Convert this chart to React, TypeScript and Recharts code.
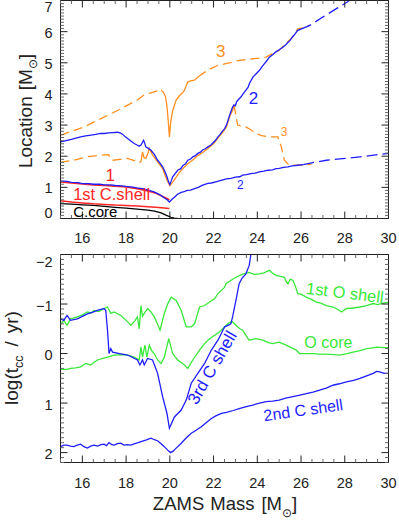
import React from 'react';
import { LineChart, Line, XAxis, YAxis, ReferenceDot } from 'recharts';

type Pt = [number, number];

// ---------- Top panel: Location [Msun] vs ZAMS mass ----------
const cCore: Pt[] = [[15,0.48],[15.5,0.46],[16,0.44],[16.5,0.42],[17,0.39],[17.5,0.36],[18,0.33],[18.5,0.3],[19,0.27],[19.3,0.24],[19.6,0.18],[19.85,0.1],[20.05,0.04],[20.2,0.01],[20.36,0]];
const shell1Inner: Pt[] = [[15,0.57],[15.5,0.53],[16,0.5],[16.5,0.47],[17,0.45],[17.5,0.43],[18,0.42],[18.5,0.4],[19,0.38],[19.5,0.35],[19.98,0.32]];
const shell1Outer: Pt[] = [[15,1.17],[15.5,1.14],[16,1.11],[16.5,1.08],[17,1.06],[17.5,1.04],[18,1.01],[18.5,0.96],[19,0.88],[19.4,0.8],[19.7,0.7],[19.98,0.6]];
const shell2LowSolid: Pt[] = [[15,1.2],[15.3,1.19],[15.5,1.16],[15.8,1.15],[16,1.12],[16.3,1.12],[16.5,1.1],[16.8,1.1],[17,1.08],[17.3,1.08],[17.5,1.06],[17.8,1.05],[18,1.03],[18.3,1.01],[18.5,0.98],[18.8,0.95],[19,0.91],[19.25,0.86],[19.44,0.8],[19.6,0.74],[19.75,0.66],[19.88,0.6],[19.98,0.53],[20.1,0.62],[20.21,0.68],[20.35,0.78],[20.52,0.84],[20.65,0.86],[20.8,0.9],[20.95,0.91],[21.13,0.96],[21.3,1.0],[21.5,1.07],[21.74,1.13],[21.9,1.14],[22.1,1.18],[22.3,1.22],[22.59,1.27],[22.8,1.29],[23.0,1.33],[23.2,1.34],[23.33,1.39],[23.5,1.41],[23.7,1.44],[23.9,1.46],[24.1,1.5],[24.3,1.52],[24.5,1.55],[24.7,1.56],[24.86,1.6],[25.0,1.61],[25.2,1.64],[25.4,1.66],[25.6,1.69],[25.85,1.71],[26.1,1.73]];
const shell2LowDash: Pt[] = [[26.1,1.73],[26.6,1.8],[27.16,1.87],[27.9,1.92],[28.69,1.98],[29.4,2.04],[30,2.09]];
const shell2UpSolid: Pt[] = [[15,2.46],[15.25,2.5],[15.5,2.54],[15.7,2.58],[15.92,2.62],[16.15,2.65],[16.4,2.68],[16.6,2.7],[16.84,2.73],[17.0,2.73],[17.2,2.75],[17.4,2.76],[17.6,2.77],[17.75,2.74],[17.85,2.7],[17.95,2.63],[18.07,2.57],[18.2,2.5],[18.37,2.41],[18.5,2.36],[18.6,2.32],[18.68,2.36],[18.75,2.45],[18.8,2.51],[18.85,2.42],[18.9,2.3],[19.0,2.26],[19.14,2.19],[19.3,2.05],[19.44,1.87],[19.55,1.78],[19.67,1.66],[19.77,1.52],[19.87,1.34],[19.93,1.2],[20.0,1.09],[20.06,1.2],[20.13,1.34],[20.25,1.45],[20.36,1.55],[20.5,1.6],[20.6,1.7],[20.72,1.76],[20.82,1.87],[20.95,1.91],[21.05,1.98],[21.17,2.02],[21.28,2.09],[21.4,2.13],[21.5,2.2],[21.62,2.24],[21.74,2.3],[21.88,2.36],[22.0,2.45],[22.1,2.52],[22.2,2.62],[22.3,2.7],[22.4,2.8],[22.5,2.88],[22.59,3.0],[22.68,3.2],[22.75,3.35],[22.87,3.58],[22.93,3.65],[23.0,3.62],[23.05,3.75],[23.15,3.83],[23.25,3.9],[23.35,4.0],[23.48,4.12],[23.58,4.22],[23.65,4.35],[23.8,4.54],[23.95,4.65],[24.1,4.76],[24.2,4.86],[24.3,4.95],[24.42,5.05],[24.55,5.18],[24.7,5.26],[24.85,5.35],[25.0,5.42],[25.17,5.5],[25.3,5.58],[25.4,5.65],[25.5,5.72],[25.6,5.82],[25.72,5.92],[25.85,6.04],[26.0,6.08]];
const shell2UpDash: Pt[] = [[26.0,6.08],[26.4,6.2],[27.0,6.47],[27.6,6.73],[28.15,6.97],[29.0,7.4],[30,7.85]];
const shell3UpDashA: Pt[] = [[15,2.67],[15.5,2.8],[16.07,2.94],[16.6,3.12],[17.15,3.31],[17.7,3.5],[18.2,3.69],[18.5,3.8],[18.83,3.97],[19.2,4.05],[19.45,4.1],[19.6,4.12]];
const shell3UpSolid: Pt[] = [[19.6,4.12],[19.7,4.06],[19.8,3.92],[19.87,3.6],[19.93,3.1],[19.98,2.62],[20.04,3.1],[20.13,3.47],[20.29,3.8],[20.45,3.95],[20.6,4.05],[20.67,4.12],[20.82,4.38],[20.95,4.42],[21.13,4.44],[21.3,4.55]];
const shell3UpDashB: Pt[] = [[21.3,4.55],[21.6,4.7],[21.9,4.82],[22.2,4.92],[22.56,4.97],[22.9,5.02],[23.17,5.08],[23.5,5.1],[23.8,5.13],[24.1,5.15],[24.4,5.18],[24.7,5.3],[25.0,5.4],[25.3,5.61],[25.6,5.82],[25.85,6.09],[26.1,6.12],[26.4,6.2]];
const shell3LowDashA: Pt[] = [[15,1.8],[15.3,1.84],[15.6,1.87],[16.2,1.98],[16.84,2.03],[17.2,2.05],[17.3,1.9],[17.4,1.87],[18.07,1.93],[18.4,1.85],[18.6,1.8]];
const shell3LowSolid: Pt[] = [[18.6,1.8],[18.68,1.82],[18.75,2.14],[18.82,1.95],[18.9,1.93],[19.0,2.1],[19.06,2.25],[19.2,2.05],[19.44,1.82],[19.67,1.6],[19.87,1.23],[20.0,1.05],[20.2,1.23],[20.4,1.45],[20.6,1.6],[20.82,1.76],[21.05,1.88],[21.28,2.02],[21.5,2.12],[21.74,2.25],[22.0,2.4],[22.2,2.58],[22.4,2.75],[22.59,2.94],[22.75,3.3],[22.87,3.47],[22.94,3.63]];
const shell3LowDashB: Pt[] = [[22.94,3.63],[23.1,3.0],[23.48,2.94],[23.7,2.85],[23.94,2.73],[24.2,2.66],[24.55,2.62],[24.94,2.62],[25.1,2.3],[25.24,1.87],[25.4,1.75],[25.55,1.71],[25.85,1.71],[26.1,1.72],[26.47,1.74]];

// ---------- Bottom panel: log(t_cc / yr) vs ZAMS mass ----------
const oShell1: Pt[] = [[15,-0.59],[15.15,-0.67],[15.3,-0.57],[15.46,-0.7],[15.77,-0.74],[16.0,-0.78],[16.23,-0.84],[16.4,-0.82],[16.53,-0.87],[16.75,-0.85],[16.99,-0.91],[17.15,-0.94],[17.3,-0.81],[17.45,-0.84],[17.76,-0.77],[18.07,-0.64],[18.22,-0.57],[18.4,-0.66],[18.52,-0.74],[18.6,-0.5],[18.68,-0.97],[18.75,-0.75],[18.83,-0.81],[18.98,-0.91],[19.14,-0.84],[19.29,-0.74],[19.45,-0.58],[19.55,-0.47],[19.75,-0.81],[19.9,-1.0],[20.06,-1.14],[20.29,-1.07],[20.52,-0.87],[20.75,-0.54],[20.98,-0.54],[21.13,-0.6],[21.36,-0.94],[21.59,-0.97],[21.82,-1.04],[22.05,-1.11],[22.2,-1.21],[22.51,-1.34],[22.56,-1.41],[22.8,-1.48],[23.02,-1.54],[23.3,-1.6],[23.63,-1.64],[23.85,-1.6],[24.09,-1.61],[24.3,-1.63],[24.55,-1.68],[24.7,-1.62],[24.86,-1.58],[25.05,-1.56],[25.24,-1.54],[25.32,-1.45],[25.4,-1.41],[25.5,-1.5],[25.63,-1.48],[25.75,-1.35],[25.85,-1.21],[26.0,-1.2],[26.24,-1.14],[26.45,-1.1],[26.7,-1.04],[26.9,-1.02],[27.16,-0.97],[27.46,-0.94],[27.65,-0.9],[27.85,-0.84],[28.08,-0.91],[28.4,-0.92],[28.69,-0.94],[29.0,-0.97],[29.3,-1.01],[29.5,-0.99],[29.76,-1.02],[30,-1.04]];
const oCore: Pt[] = [[15,0.32],[15.3,0.32],[15.46,0.3],[15.7,0.29],[15.92,0.27],[16.15,0.2],[16.38,0.23],[16.55,0.17],[16.69,0.13],[16.9,0.1],[17.15,0.07],[17.45,0.03],[17.8,0.02],[18.07,0.03],[18.37,0.07],[18.6,0.13],[18.68,-0.13],[18.75,0.07],[18.86,-0.17],[18.95,0.07],[19.06,-0.17],[19.18,-0.05],[19.29,0.0],[19.44,0.13],[19.6,0.2],[19.75,0.07],[19.95,-0.3],[20.13,0.0],[20.36,0.13],[20.67,0.23],[20.82,0.3],[21.05,0.13],[21.36,-0.07],[21.59,-0.2],[21.82,-0.3],[22.05,-0.37],[22.28,-0.44],[22.51,-0.54],[22.7,-0.62],[22.87,-0.64],[23.02,-0.57],[23.2,-0.5],[23.33,-0.47],[23.5,-0.35],[23.63,-0.27],[23.94,-0.3],[24.25,-0.27],[24.5,-0.22],[24.71,-0.2],[25.0,-0.23],[25.32,-0.17],[25.55,-0.12],[25.78,-0.07],[25.93,0.0],[26.2,0.0],[26.54,0.0],[26.85,0.01],[27.16,0.01],[27.5,0.02],[27.77,0.03],[28.1,0.0],[28.38,-0.03],[28.7,-0.06],[29.0,-0.1],[29.2,-0.11],[29.45,-0.13],[29.76,-0.12],[30,-0.12]];
const cShell3: Pt[] = [[15,-0.7],[15.15,-0.67],[15.3,-0.77],[15.46,-0.67],[15.77,-0.7],[16.0,-0.75],[16.23,-0.8],[16.45,-0.83],[16.69,-0.87],[16.99,-0.91],[17.07,-0.87],[17.15,-0.47],[17.22,0.0],[17.3,-0.1],[17.38,-0.03],[17.7,0.0],[18.07,0.03],[18.3,0.08],[18.52,0.13],[18.63,0.23],[18.75,0.13],[18.83,0.23],[18.98,0.1],[19.21,0.13],[19.44,0.4],[19.67,0.87],[19.87,1.21],[19.98,1.51],[20.21,1.28],[20.52,1.14],[20.75,0.94],[20.98,0.6],[21.28,0.4],[21.59,0.2],[21.9,-0.07],[22.2,-0.27],[22.51,-0.54],[22.7,-0.58],[22.79,-0.6],[22.87,-0.74],[23.02,-1.07],[23.17,-1.41],[23.3,-1.52],[23.48,-1.61],[23.63,-1.78],[23.71,-2.01],[23.8,-2.6]];
const cShell2: Pt[] = [[15,1.88],[15.15,1.85],[15.3,1.85],[15.45,1.87],[15.61,1.88],[15.77,1.85],[15.92,1.83],[16.07,1.88],[16.23,1.91],[16.38,1.87],[16.53,1.85],[16.7,1.87],[16.85,1.84],[16.99,1.83],[17.1,1.86],[17.22,1.8],[17.35,1.84],[17.45,1.85],[17.6,1.82],[17.76,1.81],[17.9,1.85],[18.05,1.84],[18.22,1.85],[18.4,1.82],[18.55,1.8],[18.68,1.78],[18.9,1.75],[19.14,1.71],[19.29,1.74],[19.44,1.76],[19.6,1.82],[19.75,1.88],[19.9,1.95],[20.03,2.0],[20.15,1.97],[20.29,1.91],[20.5,1.82],[20.67,1.74],[20.85,1.66],[20.98,1.61],[21.2,1.55],[21.44,1.48],[21.7,1.38],[21.9,1.31],[22.1,1.26],[22.36,1.21],[22.59,1.19],[22.9,1.15],[23.17,1.11],[23.5,1.07],[23.79,1.04],[24.1,1.0],[24.4,0.97],[24.7,0.96],[25.0,0.94],[25.3,0.9],[25.63,0.87],[25.95,0.84],[26.24,0.81],[26.55,0.78],[26.85,0.74],[27.15,0.7],[27.46,0.64],[27.75,0.61],[28.08,0.57],[28.4,0.54],[28.69,0.5],[29.0,0.45],[29.3,0.4],[29.45,0.36],[29.6,0.37],[29.8,0.4],[30,0.4]];

// ---------- Tick labels ----------
const xMajorLabels = [16, 18, 20, 22, 24, 26, 28, 30];
const topYLabels = [0, 1, 2, 3, 4, 5, 6, 7];
const botYLabels = [-2, -1, 0, 1, 2];

const BLUE = '#1e1eff';
const ORANGE = '#ff8f1f';
const RED = '#ff2626';
const GREEN = '#38e838';
const AXIS = '#222';
const FONT = '"Liberation Sans", Arial, Helvetica, sans-serif';

const range = (a: number, b: number, step: number) => {
  const out: number[] = [];
  const n = Math.round((b - a) / step);
  for (let i = 0; i <= n; i++) out.push(Math.round((a + i * step) * 1000) / 1000);
  return out;
};

const xTicks = range(15, 30, 0.5);
const topYTicks = range(0, 7, 0.1);
const botYTicks = range(-2, 2.2, 0.1);

const fmt = (v: number) => (v < 0 ? '\u2212' + Math.abs(v) : String(v));

type Side = 'bottom' | 'top' | 'left' | 'right';
function makeTick(side: Side, majors: number[], labels: number[] | null, labelGap: number, shift?: (v: number) => number) {
  return (props: any) => {
    const { x, y, payload } = props;
    const v = Math.round(Number(payload.value) * 1000) / 1000;
    const major = majors.includes(v);
    const len = major ? 7 : 3.5;
    let x2 = x, y2 = y;
    if (side === 'bottom') y2 = y - len;
    if (side === 'top') y2 = y + len;
    if (side === 'left') x2 = x + len;
    if (side === 'right') x2 = x - len;
    const showLabel = labels && labels.includes(v);
    return (
      <g>
        <line x1={x} y1={y} x2={x2} y2={y2} stroke={major ? AXIS : '#666'} strokeWidth={1} />
        {showLabel && side === 'bottom' && (
          <text x={x} y={y + labelGap} textAnchor="middle" fontSize={14.5} fontFamily={FONT} fill={AXIS}>{fmt(v)}</text>
        )}
        {showLabel && side === 'left' && (
          <text x={x - labelGap} y={y + 5 + (shift ? shift(v) : 0)} textAnchor="end" fontSize={14.5} fontFamily={FONT} fill={AXIS}>{fmt(v)}</text>
        )}
      </g>
    );
  };
}

const toPts = (a: Pt[]) => a.map(([x, y]) => ({ x, y }));

type Series = { data: Pt[]; color: string; dash?: string; width?: number };

const topSeries: Series[] = [
  { data: shell3UpDashA, color: ORANGE, dash: '9 5' },
  { data: shell3UpSolid, color: ORANGE },
  { data: shell3UpDashB, color: ORANGE, dash: '9 5' },
  { data: shell3LowDashA, color: ORANGE, dash: '9 5' },
  { data: shell3LowSolid, color: ORANGE },
  { data: shell3LowDashB, color: ORANGE, dash: '9 5' },
  { data: cCore, color: '#000' },
  { data: shell1Inner, color: RED, width: 1.5 },
  { data: shell1Outer, color: RED, width: 1.6 },
  { data: shell2LowSolid, color: BLUE },
  { data: shell2LowDash, color: BLUE, dash: '11 5' },
  { data: shell2UpSolid, color: BLUE },
  { data: shell2UpDash, color: BLUE, dash: '11 5' },
];

const botSeries: Series[] = [
  { data: oShell1, color: GREEN },
  { data: oCore, color: GREEN },
  { data: cShell3, color: BLUE },
  { data: cShell2, color: BLUE },
];

type Note = { text: string; x: number; y: number; color: string; size: number; angle?: number };
const topNotes: Note[] = [
  { text: '3', x: 22.33, y: 5.37, color: ORANGE, size: 17 },
  { text: '2', x: 23.82, y: 3.86, color: BLUE, size: 17 },
  { text: '3', x: 25.23, y: 2.77, color: ORANGE, size: 12 },
  { text: '2', x: 23.23, y: 1.1, color: BLUE, size: 12 },
  { text: '1', x: 17.28, y: 1.39, color: RED, size: 17 },
  { text: '1st C.shell', x: 17.34, y: 0.78, color: RED, size: 16.5 },
  { text: 'C.core', x: 16.59, y: 0.21, color: '#000', size: 15 },
];
const botNotes: Note[] = [
  { text: '1st O shell', x: 28.01, y: -1.23, color: GREEN, size: 16.5, angle: 7 },
  { text: 'O core', x: 27.25, y: -0.23, color: GREEN, size: 16 },
  { text: '2nd C shell', x: 26.1, y: 1.14, color: BLUE, size: 16, angle: -8 },
  { text: '3rd C shell', x: 21.92, y: 0.28, color: BLUE, size: 17, angle: -60 },
];

function renderLines(list: Series[]) {
  return list.map((s, i) => (
    <Line
      key={i}
      data={toPts(s.data)}
      dataKey="y"
      type="linear"
      dot={false}
      activeDot={false}
      stroke={s.color}
      strokeWidth={s.width ?? 1.3}
      strokeDasharray={s.dash}
      isAnimationActive={false}
    />
  ));
}

function renderNotes(list: Note[]) {
  return list.map((n, i) => (
    <ReferenceDot
      key={'n' + i}
      x={n.x}
      y={n.y}
      r={0}
      fill="none"
      stroke="none"
      label={{ value: n.text, position: 'center', fill: n.color, fontSize: n.size, fontFamily: FONT, angle: n.angle ?? 0 }}
    />
  ));
}

export default function App() {
  const xAxisCommon = {
    type: 'number' as const,
    dataKey: 'x',
    domain: [15, 30],
    allowDataOverflow: true,
    ticks: xTicks,
    interval: 0 as const,
    tickSize: 0,
    tickMargin: 0,
    height: 0.5,
    tickLine: false,
    axisLine: { stroke: AXIS, strokeWidth: 1 },
  };
  const yAxisCommon = {
    type: 'number' as const,
    allowDataOverflow: true,
    interval: 0 as const,
    tickSize: 0,
    tickMargin: 0,
    width: 0.5,
    tickLine: false,
    axisLine: { stroke: AXIS, strokeWidth: 1 },
  };
  const topShift = (v: number) => (v === 7 ? 6 : v === 0 ? -5.5 : 1);
  const botShift = (v: number) => (v === -2 ? 7 : 1.5);
  return (
    <div style={{ position: 'absolute', left: 0, top: 0, width: 399, height: 520, background: '#fff' }}>
      <div style={{ position: 'absolute', left: 0, top: 0 }}>
        <LineChart width={399} height={250} margin={{ top: 0, right: 10, bottom: 31, left: 60 }}>
          <XAxis {...xAxisCommon} orientation="bottom" tick={makeTick('bottom', xMajorLabels, xMajorLabels, 24)} />
          <XAxis {...xAxisCommon} xAxisId="top" orientation="top" tick={makeTick('top', xMajorLabels, null, 0)} />
          <YAxis {...yAxisCommon} domain={[0, 7]} ticks={topYTicks} tick={makeTick('left', topYLabels, topYLabels, 8, topShift)} />
          <YAxis {...yAxisCommon} yAxisId="right" orientation="right" domain={[0, 7]} ticks={topYTicks} tick={makeTick('right', topYLabels, null, 0)} />
          {renderLines(topSeries)}
          {renderNotes(topNotes)}
        </LineChart>
      </div>
      <div style={{ position: 'absolute', left: 0, top: 0 }}>
        <LineChart width={399} height={520} margin={{ top: 254, right: 10, bottom: 57, left: 60 }}>
          <XAxis {...xAxisCommon} orientation="bottom" tick={makeTick('bottom', xMajorLabels, xMajorLabels, 25)} />
          <XAxis {...xAxisCommon} xAxisId="top" orientation="top" tick={makeTick('top', xMajorLabels, null, 0)} />
          <YAxis {...yAxisCommon} domain={[-2, 2.2]} reversed ticks={botYTicks} tick={makeTick('left', botYLabels, botYLabels, 8, botShift)} />
          <YAxis {...yAxisCommon} yAxisId="right" orientation="right" domain={[-2, 2.2]} reversed ticks={botYTicks} tick={makeTick('right', botYLabels, null, 0)} />
          {renderLines(botSeries)}
          {renderNotes(botNotes)}
        </LineChart>
      </div>
      <svg width={399} height={520} style={{ position: 'absolute', left: 0, top: 0, pointerEvents: 'none' }}>
        <text transform="translate(32,111) rotate(-90)" textAnchor="middle" fontSize={19} fontFamily={FONT} fill={AXIS}>
          <tspan>Location</tspan>
          <tspan dx={6}>[M</tspan>
          <tspan fontSize={12} dy={5}>{'\u2299'}</tspan>
          <tspan dy={-5}>]</tspan>
        </text>
        <text transform="translate(18,358) rotate(-90)" textAnchor="middle" fontSize={19} fontFamily={FONT} fill={AXIS}>
          <tspan>log(t</tspan>
          <tspan fontSize={12.5} dy={5}>cc</tspan>
          <tspan dy={-5} dx={9}>/</tspan>
          <tspan dx={8}>yr)</tspan>
        </text>
        <text x={225} y={510} textAnchor="middle" fontSize={18.5} fontFamily={FONT} fill={AXIS}>
          <tspan>ZAMS</tspan>
          <tspan dx={6}>Mass</tspan>
          <tspan dx={7}>[M</tspan>
          <tspan fontSize={12} dy={7}>{'\u2299'}</tspan>
          <tspan dy={-7}>]</tspan>
        </text>
      </svg>
    </div>
  );
}
